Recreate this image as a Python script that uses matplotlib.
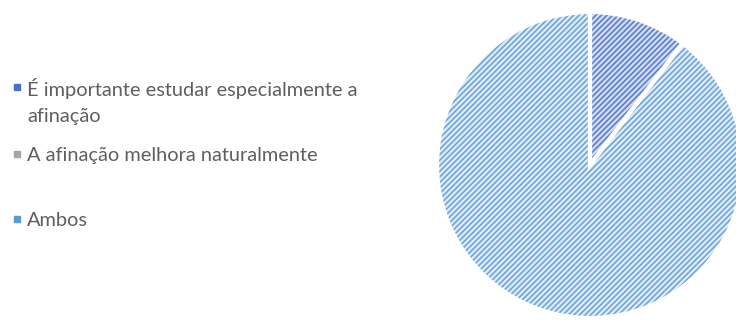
import matplotlib.pyplot as plt
from matplotlib.patches import Rectangle

labels = ['É importante estudar especialmente a\nafinação',
          'A afinação melhora naturalmente',
          'Ambos']
values = [3, 0, 26]
fill_colors = ['#d3dbf1', '#dcdcdc', '#deebf7']
hatch_colors = ['#5a80cc', '#a5a5a5', '#6fa6da']
marker_colors = ['#4472c4', '#a5a5a5', '#5b9bd5']
label_base = [94, 161, 226]  # pixel rows of first-line baselines

W, H = 736, 320
fig = plt.figure(figsize=(W / 100, H / 100), dpi=100)

ax = fig.add_axes([(590 - 153) / W, (H - 165 - 153) / H, 306 / W, 306 / H])
plt.rcParams['hatch.linewidth'] = 1.2
wedges, _ = ax.pie(values, startangle=90, counterclock=False, colors=fill_colors,
                   wedgeprops=dict(linewidth=0))
for w, hc in zip(wedges, hatch_colors):
    w.set_hatch('//////')
    w.set_edgecolor(hc)
    w.set_linewidth(0)
# white separators on top
ax.pie(values, startangle=90, counterclock=False,
       wedgeprops=dict(fill=False, edgecolor='white', linewidth=3))
ax.set_xlim(-1.0, 1.0)
ax.set_ylim(-1.0, 1.0)
ax.set_aspect('equal')
ax.axis('off')

for lab, y, mc in zip(labels, label_base, marker_colors):
    fig.patches.append(Rectangle((14 / W, (H - y + 4) / H), 6 / W, 6 / H,
                                 transform=fig.transFigure, color=mc, figure=fig))
    n = lab.count('\n')
    fig.text(27 / W, (H - y - 28 * n) / H, lab, ha='left', va='baseline',
             fontsize=14.4, color='#5f5f5f', family='Lato',
             linespacing=1.62)

fig.savefig('out.png', dpi=100)
